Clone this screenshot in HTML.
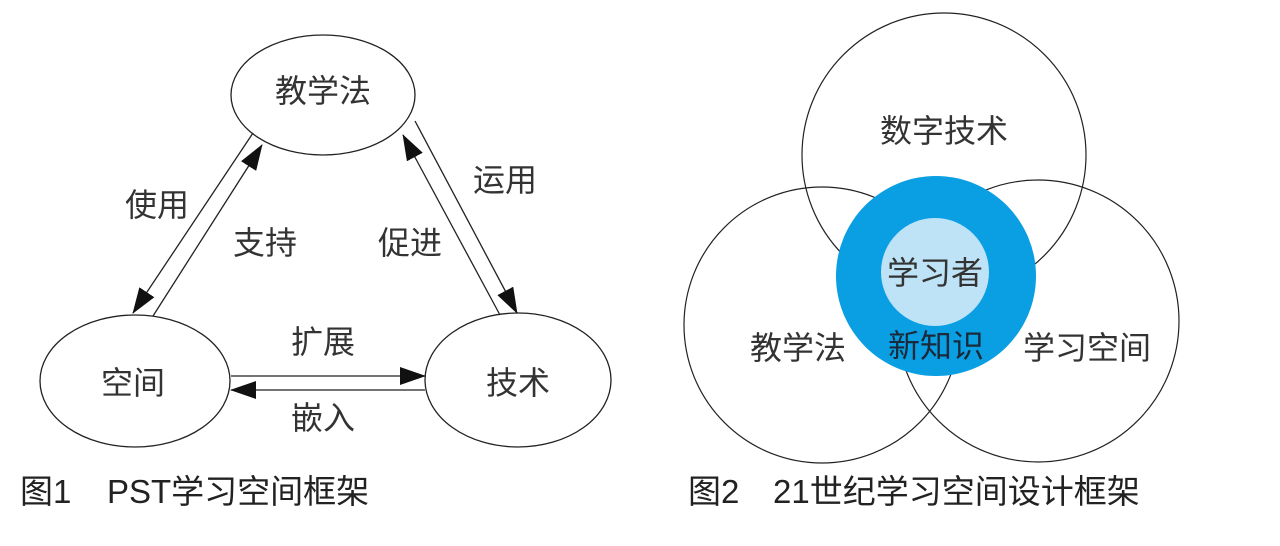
<!DOCTYPE html>
<html><head><meta charset="utf-8"><style>
html,body{margin:0;padding:0;background:#fff;}
svg{display:block}
text{font-family:"Liberation Sans","Noto Sans CJK SC",sans-serif;}
</style></head><body>
<svg width="1280" height="546" viewBox="0 0 1280 546" xmlns="http://www.w3.org/2000/svg">
<defs>
<marker id="ah" markerWidth="26" markerHeight="18" refX="25" refY="9" orient="auto" markerUnits="userSpaceOnUse">
<path d="M0,0 L26,9 L0,18 Z" fill="#111"/>
</marker>
</defs>
<g fill="none" stroke="#222" stroke-width="1.3">
<ellipse cx="323" cy="95" rx="92" ry="60"/>
<ellipse cx="135" cy="381" rx="95" ry="66"/>
<ellipse cx="518" cy="380" rx="93" ry="67"/>
<line x1="253" y1="133" x2="133" y2="313" marker-end="url(#ah)"/>
<line x1="153" y1="316" x2="262" y2="145" marker-end="url(#ah)"/>
<line x1="415" y1="121" x2="517" y2="313" marker-end="url(#ah)"/>
<line x1="500" y1="315" x2="403" y2="135" marker-end="url(#ah)"/>
<line x1="231" y1="376" x2="425" y2="376" marker-end="url(#ah)"/>
<line x1="425" y1="390" x2="231" y2="390" marker-end="url(#ah)"/>
</g>
<g font-size="32" fill="#333" text-anchor="middle">
<text x="323" y="102">教学法</text>
<text x="133" y="394">空间</text>
<text x="518" y="394">技术</text>
<text x="157" y="216">使用</text>
<text x="265" y="254">支持</text>
<text x="410" y="254">促进</text>
<text x="505" y="191">运用</text>
<text x="323" y="353">扩展</text>
<text x="323" y="429">嵌入</text>
</g>
<text x="20" y="503" font-size="33" fill="#222">图1<tspan x="107">PST学习空间框架</tspan></text>

<g fill="none" stroke="#222" stroke-width="1.2">
<circle cx="944" cy="155" r="142"/>
<circle cx="822" cy="325" r="138"/>
<circle cx="1038" cy="321" r="141"/>
</g>
<circle cx="936" cy="276" r="100" fill="#0a9ee2"/>
<circle cx="935" cy="272" r="54" fill="#bfe3f6"/>
<g font-size="32" fill="#333" text-anchor="middle">
<text x="944" y="142">数字技术</text>
<text x="935" y="284">学习者</text>
<text x="936" y="357" fill="#1b2a3a">新知识</text>
<text x="798" y="359">教学法</text>
<text x="1087" y="359">学习空间</text>
</g>
<text x="688" y="503" font-size="33" fill="#222">图2<tspan x="773">21世纪学习空间设计框架</tspan></text>
</svg>
</body></html>
